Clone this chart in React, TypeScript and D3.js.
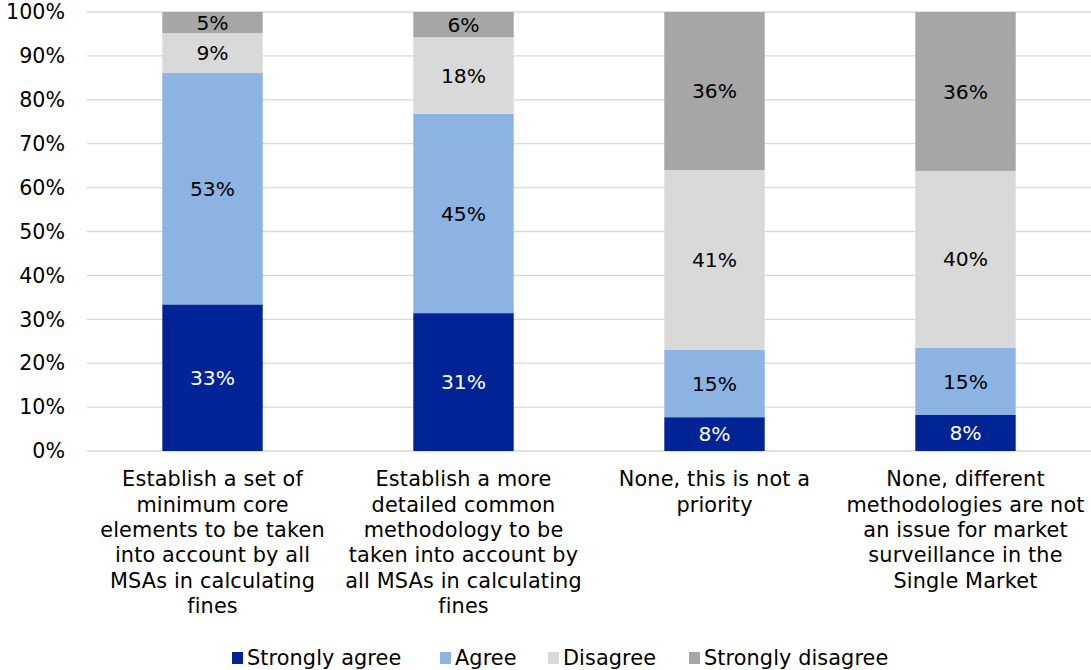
import React from "react";
import * as d3 from "d3";

const categories: string[][] = [
  ["Establish a set of", "minimum core", "elements to be taken", "into account by all", "MSAs in calculating", "fines"],
  ["Establish a more", "detailed common", "methodology to be", "taken into account by", "all MSAs in calculating", "fines"],
  ["None, this is not a", "priority"],
  ["None, different", "methodologies are not", "an issue for market", "surveillance in the", "Single Market"],
];
const seriesNames = ["Strongly agree", "Agree", "Disagree", "Strongly disagree"];
const stronglyAgree = [33.4, 31.4, 7.7, 8.2];
const agree = [52.7, 45.4, 15.3, 15.3];
const disagree = [9.1, 17.5, 41.0, 40.3];
const stronglyDisagree = [4.8, 5.7, 36.0, 36.2];
const yTicks = [0, 10, 20, 30, 40, 50, 60, 70, 80, 90, 100];
const colors = ["#002395", "#8DB3E2", "#D9D9D9", "#A6A6A6"];
const labelColors = ["#ffffff", "#000000", "#000000", "#000000"];

const W = 1091;
const H = 670;
const FONT = "Verdana, 'DejaVu Sans', sans-serif";
const FS = 20.8;

export default function App() {
  const series = [stronglyAgree, agree, disagree, stronglyDisagree];
  const x = d3.scaleBand<number>().domain(d3.range(categories.length)).range([87, 1091]).paddingInner(0.6).paddingOuter(0.3);
  const y = d3.scaleLinear().domain([0, 100]).range([451, 12]);
  const rows = categories.map((_, i) => {
    const o: Record<string, number> = {};
    seriesNames.forEach((s, k) => (o[s] = series[k][i]));
    return o;
  });
  const stacked = d3.stack<Record<string, number>>().keys(seriesNames)(rows);
  const bw = x.bandwidth();

  const legendX = [232, 440, 548, 689];

  return (
    <svg width={W} height={H} style={{ position: "absolute", left: 0, top: 0, background: "#fff" }} fontFamily={FONT}>
      <rect width={W} height={H} fill="#fff" />
      {yTicks.map((t) => (
        <g key={t}>
          <line x1={87} x2={1091} y1={y(t)} y2={y(t)} stroke="#D9D9D9" strokeWidth={1.3} />
          <text x={65} y={y(t)} dy="0.35em" textAnchor="end" fontSize={20.6} fill="#000">
            {t}%
          </text>
        </g>
      ))}
      {stacked.map((layer, k) => (
        <g key={layer.key}>
          {layer.map((d, i) => {
            const x0 = x(i)!;
            const top = y(d[1]);
            const bot = y(d[0]);
            return (
              <g key={i}>
                <rect x={x0} y={top} width={bw} height={bot - top} fill={colors[k]} />
                <text
                  x={x0 + bw / 2}
                  y={(top + bot) / 2}
                  dy="0.35em"
                  textAnchor="middle"
                  fontSize={20.3}
                  fill={labelColors[k]}
                >
                  {Math.round(d[1] - d[0])}%
                </text>
              </g>
            );
          })}
        </g>
      ))}
      {categories.map((lines, i) => (
        <text key={i} x={x(i)! + bw / 2} textAnchor="middle" fontSize={FS} letterSpacing={0.15} fill="#000">
          {lines.map((l, j) => (
            <tspan key={j} x={x(i)! + bw / 2} y={479 + j * 25.4} dy="0.35em">
              {l}
            </tspan>
          ))}
        </text>
      ))}
      {seriesNames.map((s, k) => (
        <g key={s}>
          <rect x={legendX[k]} y={652} width={11} height={12} fill={colors[k]} />
          <text x={legendX[k] + 15} y={658} dy="0.35em" fontSize={FS} letterSpacing={0.1} fill="#000">
            {s}
          </text>
        </g>
      ))}
    </svg>
  );
}
